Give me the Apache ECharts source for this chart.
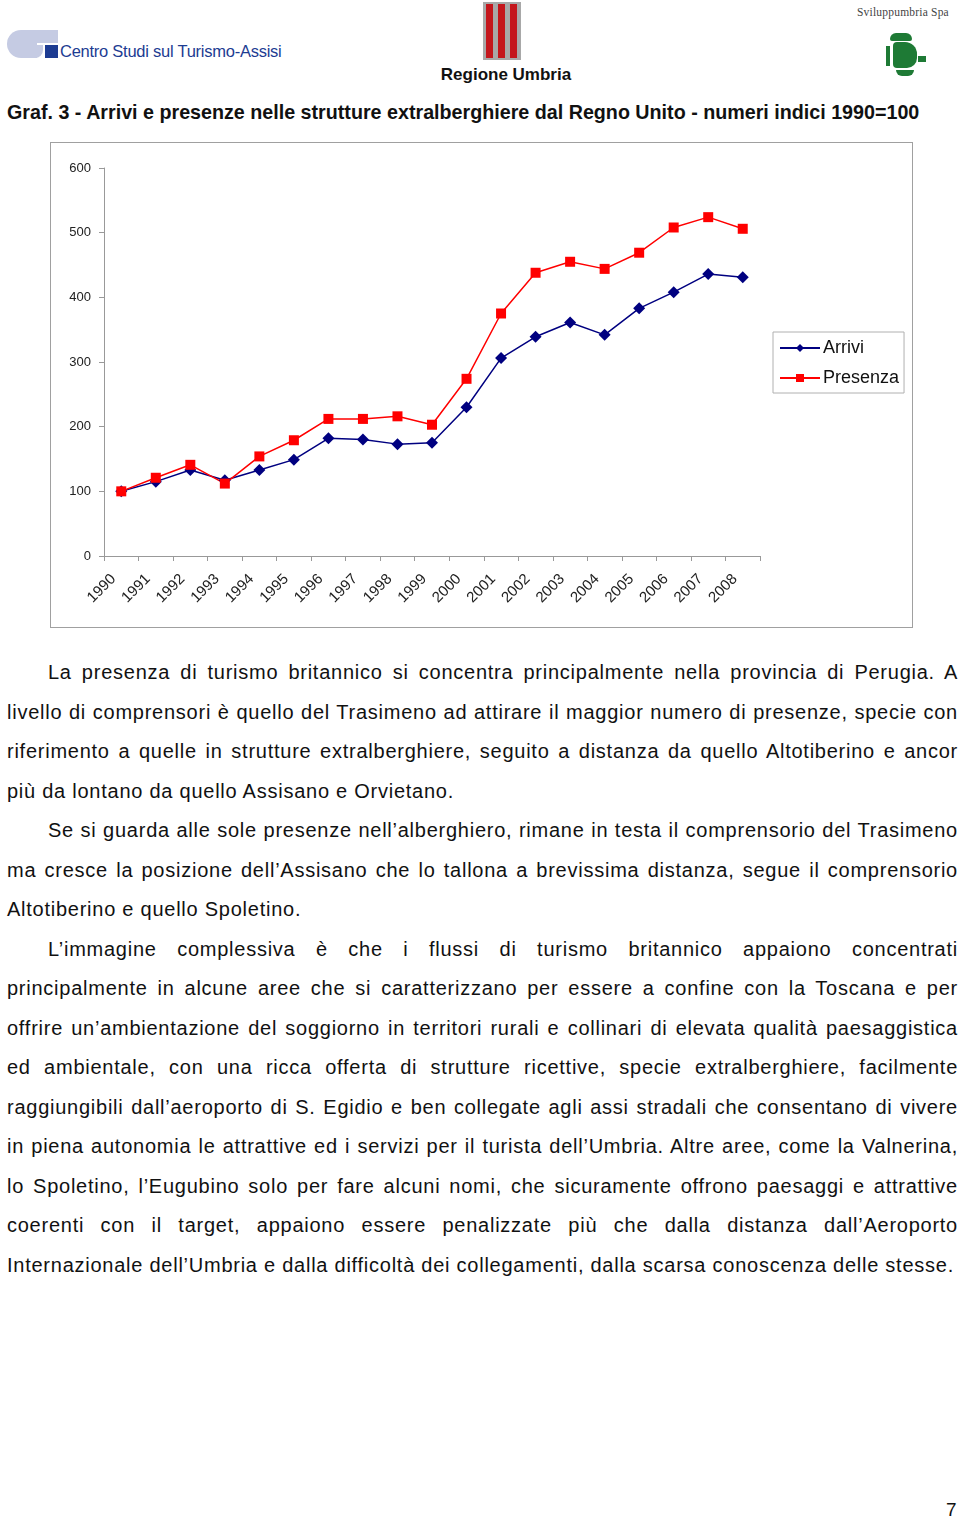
<!DOCTYPE html>
<html>
<head>
<meta charset="utf-8">
<script src="https://cdn.jsdelivr.net/npm/echarts@6/dist/echarts.min.js"></script>
<style>
  html, body { margin: 0; padding: 0; background: #fff; }
  body { width: 960px; height: 1518px; position: relative; overflow: hidden; font-family: "Liberation Sans", Arial, sans-serif; color: #111; }
  .abs { position: absolute; }
  #chartBox { position: absolute; left: 50px; top: 142px; width: 861px; height: 484px; border: 1px solid #a0a0a0; }
  #chart { width: 861px; height: 484px; }
  #text { position: absolute; left: 7px; top: 653px; width: 951px; font-size: 20px; line-height: 39.5px; letter-spacing: 0.75px; }
  .ln { white-space: nowrap; text-align: justify; text-align-last: justify; }
  .last { text-align-last: left; }
  .ind { padding-left: 41px; }
</style>
</head>
<body>
<!-- header -->
<div class="abs" style="left:7px;top:30px;width:30px;height:28px;background:#c5cbe3;border-radius:14px 0 0 14px;"></div>
<div class="abs" style="left:26px;top:30px;width:32px;height:13px;background:#c5cbe3;"></div>
<div class="abs" style="left:26px;top:45px;width:17px;height:13px;background:#c5cbe3;border-radius:0 0 8px 0;"></div>
<div class="abs" style="left:45px;top:45px;width:13px;height:13px;background:#1d3c92;"></div>
<div class="abs" style="left:60px;top:42px;font-size:16.5px;color:#1d3c92;font-family:'Liberation Sans',Arial,sans-serif;letter-spacing:-0.25px;">Centro Studi sul Turismo-Assisi</div>

<div class="abs" style="left:483px;top:2px;width:38px;height:58px;background:#a8a8a8;"></div>
<div class="abs" style="left:486px;top:4px;width:7px;height:54px;background:#c4161c;"></div>
<div class="abs" style="left:498px;top:4px;width:7px;height:54px;background:#c4161c;"></div>
<div class="abs" style="left:510px;top:4px;width:7px;height:54px;background:#c4161c;"></div>
<div class="abs" style="left:436px;top:65px;width:140px;text-align:center;font-size:17px;font-weight:bold;color:#111;">Regione Umbria</div>

<div class="abs" style="left:857px;top:6px;font-size:11.5px;font-family:'Liberation Serif',serif;color:#444;letter-spacing:0.2px;">Sviluppumbria Spa</div>
<div class="abs" style="left:890px;top:33px;width:22px;height:8px;background:#1e7a35;border-radius:6px 6px 2px 2px;"></div>
<div class="abs" style="left:893px;top:42px;width:24px;height:26px;background:#1e7a35;border-radius:4px 12px 10px 4px;"></div>
<div class="abs" style="left:886px;top:46px;width:4px;height:20px;background:#1e7a35;"></div>
<div class="abs" style="left:918px;top:56px;width:8px;height:6px;background:#1e7a35;"></div>
<div class="abs" style="left:896px;top:70px;width:18px;height:6px;background:#1e7a35;border-radius:0 0 9px 9px;"></div>

<div class="abs" style="left:7px;top:101px;font-size:19.7px;font-weight:bold;color:#111;">Graf. 3 - Arrivi e presenze nelle strutture extralberghiere dal Regno Unito - numeri indici 1990=100</div>

<div id="chartBox"><div id="chart"></div></div>

<div id="text">
<div class="ln ind">La presenza di turismo britannico si concentra principalmente nella provincia di Perugia. A</div>
<div class="ln">livello di comprensori è quello del Trasimeno ad attirare il maggior numero di presenze, specie con</div>
<div class="ln">riferimento a quelle in strutture extralberghiere, seguito a distanza da quello Altotiberino e ancor</div>
<div class="ln last">più da lontano da quello Assisano e Orvietano.</div>
<div class="ln ind">Se si guarda alle sole presenze nell’alberghiero, rimane in testa il comprensorio del Trasimeno</div>
<div class="ln">ma cresce la posizione dell’Assisano che lo tallona a brevissima distanza, segue il comprensorio</div>
<div class="ln last">Altotiberino e quello Spoletino.</div>
<div class="ln ind">L’immagine complessiva è che i flussi di turismo britannico appaiono concentrati</div>
<div class="ln">principalmente in alcune aree che si caratterizzano per essere a confine con la Toscana e per</div>
<div class="ln">offrire un’ambientazione del soggiorno in territori rurali e collinari di elevata qualità paesaggistica</div>
<div class="ln">ed ambientale, con una ricca offerta di strutture ricettive, specie extralberghiere, facilmente</div>
<div class="ln">raggiungibili dall’aeroporto di S. Egidio e ben collegate agli assi stradali che consentano di vivere</div>
<div class="ln">in piena autonomia le attrattive ed i servizi per il turista dell’Umbria. Altre aree, come la Valnerina,</div>
<div class="ln">lo Spoletino, l’Eugubino solo per fare alcuni nomi, che sicuramente offrono paesaggi e attrattive</div>
<div class="ln">coerenti con il target, appaiono essere penalizzate più che dalla distanza dall’Aeroporto</div>
<div class="ln last">Internazionale dell’Umbria e dalla difficoltà dei collegamenti, dalla scarsa conoscenza delle stesse.</div>
</div>

<div class="abs" style="left:946px;top:1499px;font-size:19px;">7</div>

<script>
const years = ['1990','1991','1992','1993','1994','1995','1996','1997','1998','1999','2000','2001','2002','2003','2004','2005','2006','2007','2008'];
const arrivi = [100,115,133,117,133,149,182,180,173,175,230,306,339,361,342,383,408,436,431];
const presenza = [100,121,141,112,154,179,212,212,216,203,274,375,438,455,444,469,508,524,506];
const yTicks = { min: 0, max: 600, interval: 100 };

const chart = echarts.init(document.getElementById('chart'), null, { renderer: 'canvas' });
chart.setOption({
  animation: false,
  backgroundColor: '#fff',
  grid: { left: 53, right: 152, top: 25, bottom: 71, containLabel: false },
  legend: {
    orient: 'vertical',
    left: 722, top: 189,
    padding: [7, 5, 6, 6],
    backgroundColor: '#fff',
    borderColor: '#b0b0b0',
    borderWidth: 1,
    itemWidth: 40, itemHeight: 10, itemGap: 12,
    textStyle: { fontSize: 18, color: '#111', fontFamily: 'Liberation Sans', padding: [0, 0, 0, -2] },
    data: ['Arrivi', 'Presenza']
  },
  xAxis: {
    type: 'category',
    data: years,
    boundaryGap: true,
    axisLine: { lineStyle: { color: '#999', width: 1 } },
    axisTick: { show: true, length: 5, lineStyle: { color: '#999' } },
    axisLabel: { rotate: 45, fontSize: 15, color: '#222', fontFamily: 'Liberation Sans', margin: 13, padding: [0, 11, 0, 0], interval: 0 },
    splitLine: { show: false }
  },
  yAxis: {
    type: 'value',
    min: yTicks.min, max: yTicks.max, interval: yTicks.interval,
    axisLine: { show: true, lineStyle: { color: '#999', width: 1 } },
    axisTick: { show: true, length: 5, lineStyle: { color: '#999' } },
    axisLabel: { fontSize: 13, color: '#222', fontFamily: 'Liberation Sans', margin: 13 },
    splitLine: { show: false }
  },
  series: [
    {
      name: 'Arrivi', type: 'line', data: arrivi,
      symbol: 'diamond', symbolSize: 12,
      lineStyle: { color: '#000080', width: 1.5 },
      itemStyle: { color: '#000080' }
    },
    {
      name: 'Presenza', type: 'line', data: presenza,
      symbol: 'rect', symbolSize: 10,
      lineStyle: { color: '#ff0000', width: 1.5 },
      itemStyle: { color: '#ff0000' }
    }
  ]
});
</script>
</body>
</html>
